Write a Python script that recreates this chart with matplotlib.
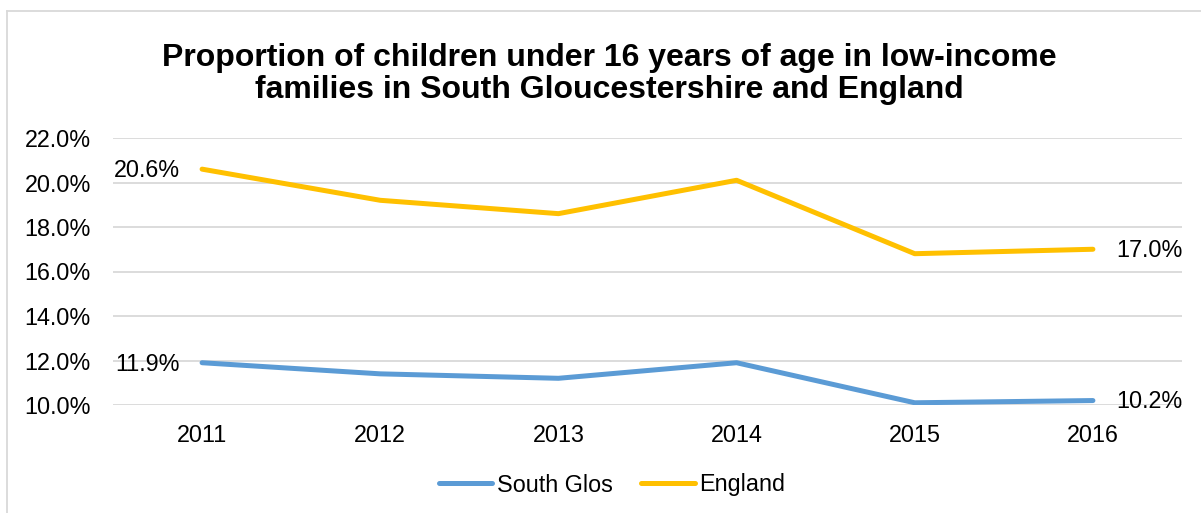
import matplotlib.pyplot as plt
from matplotlib.lines import Line2D

plt.rcParams['font.family'] = ['Liberation Sans', 'DejaVu Sans']

years = ['2011', '2012', '2013', '2014', '2015', '2016']
south_glos = [11.9, 11.4, 11.2, 11.9, 10.1, 10.2]
england = [20.6, 19.2, 18.6, 20.1, 16.8, 17.0]
y_ticks = [10, 12, 14, 16, 18, 20, 22]

blue = '#5B9BD5'
gold = '#FFC000'
grid_col = '#D9D9D9'
fs = 16.8

fig = plt.figure(figsize=(12.01, 5.13), dpi=100)
ax = fig.add_axes([113 / 1201, 1 - 405 / 513, (1182 - 113) / 1201, (405 - 138) / 513])

x = list(range(len(years)))
ax.plot(x, south_glos, color=blue, lw=3.6, solid_capstyle='round', label='South Glos')
ax.plot(x, england, color=gold, lw=3.6, solid_capstyle='round', label='England')

ax.set_xlim(-0.5, len(years) - 0.5)
ax.set_ylim(10, 22)
ax.set_yticks(y_ticks)
ax.set_yticklabels([f'{v:.1f}%' for v in y_ticks])
ax.set_xticks(x)
ax.set_xticklabels(years)
ax.tick_params(axis='both', length=0, labelsize=fs, colors='black')
ax.tick_params(axis='y', pad=16)
ax.tick_params(axis='x', pad=14)
ax.grid(axis='y', color=grid_col, lw=1.3)
ax.set_axisbelow(True)
for s in ax.spines.values():
    s.set_visible(False)

# data labels on first and last points
for series in (south_glos, england):
    ax.annotate(f'{series[0]:.1f}%', (x[0], series[0]), xytext=(-16, -1),
                textcoords='offset points', ha='right', va='center', fontsize=fs)
    ax.annotate(f'{series[-1]:.1f}%', (x[-1], series[-1]), xytext=(17, -1),
                textcoords='offset points', ha='left', va='center', fontsize=fs)

fig.text(609 / 1201, 1 - 74 / 513, 'Proportion of children under 16 years of age in low-income\n'
         'families in South Gloucestershire and England',
         ha='center', va='center', fontsize=23, fontweight='bold', linespacing=1.12)

fig.legend(loc='center', bbox_to_anchor=(612 / 1201, 1 - 485 / 513), ncol=2, frameon=False,
           fontsize=fs, handlelength=2.3, handletextpad=0.2, columnspacing=1.2)

# outer chart border (left and top edges)
fig.add_artist(Line2D([7 / 1201, 7 / 1201], [0, 1 - 11 / 513], color=grid_col, lw=1.3))
fig.add_artist(Line2D([7 / 1201, 1], [1 - 11 / 513, 1 - 11 / 513], color=grid_col, lw=1.3))

fig.savefig('out.png', dpi=100)
